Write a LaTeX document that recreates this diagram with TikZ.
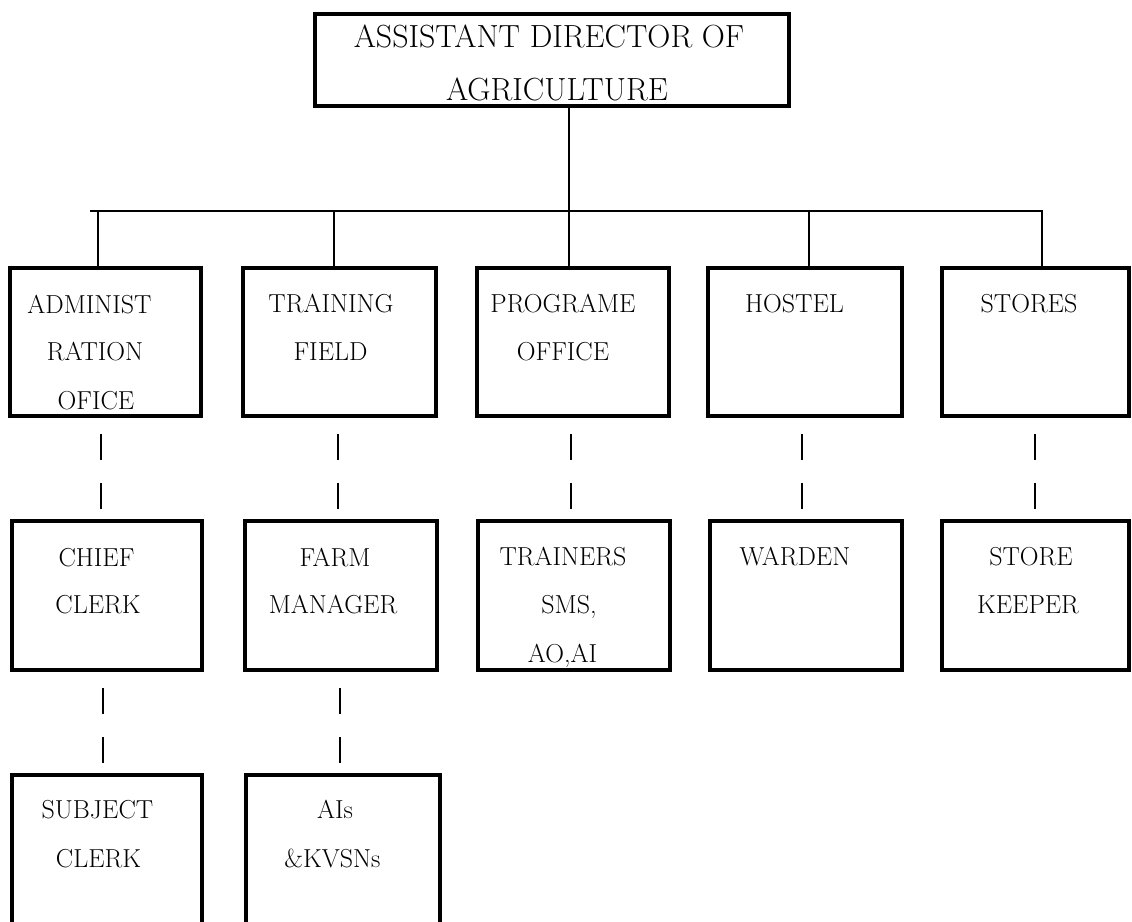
\documentclass[tikz,border=0pt]{standalone}
\usepackage{fontspec}
\begin{document}
\begin{tikzpicture}[x=1pt,y=-1pt,
  box/.style={draw, line width=4pt, inner sep=0pt},
  conn/.style={line width=2pt},
  dashconn/.style={line width=2.5pt, dash pattern=on 26pt off 23pt, dash phase=33pt},
  lbl/.style={font=\fontsize{26}{30}\selectfont, anchor=base, inner sep=0pt},
  toplbl/.style={font=\fontsize{32}{36}\selectfont, anchor=base, inner sep=0pt}]
\useasboundingbox (0,0) rectangle (1132,921);
% top box
\node[box, minimum width=474pt, minimum height=92pt] (top) at (552,60) {};
\node[toplbl] (t1) at (549,47) {ASSISTANT DIRECTOR OF};
\node[toplbl] (t2) at (557,100) {AGRICULTURE};
% row 1
\node[box, minimum width=191pt, minimum height=148pt] (a1) at (105.5,342) {};
\node[box, minimum width=193pt, minimum height=148pt] (a2) at (339.5,342) {};
\node[box, minimum width=192pt, minimum height=148pt] (a3) at (573,342) {};
\node[box, minimum width=194pt, minimum height=148pt] (a4) at (805,342) {};
\node[box, minimum width=187pt, minimum height=148pt] (a5) at (1035.5,342) {};
% row 2
\node[box, minimum width=190pt, minimum height=149pt] (b1) at (107,595.5) {};
\node[box, minimum width=192pt, minimum height=149pt] (b2) at (341,595.5) {};
\node[box, minimum width=192pt, minimum height=149pt] (b3) at (574,595.5) {};
\node[box, minimum width=192pt, minimum height=149pt] (b4) at (806,595.5) {};
\node[box, minimum width=187pt, minimum height=149pt] (b5) at (1035.5,595.5) {};
% row 3
\node[box, minimum width=190pt, minimum height=165pt] (c1) at (107,857.5) {};
\node[box, minimum width=194pt, minimum height=165pt] (c2) at (343,857.5) {};
% labels
\node[lbl] (l1) at (89.5,313) {ADMINIST};
\node[lbl] (l2) at (95,360) {RATION};
\node[lbl] (l3) at (96,409) {OFICE};
\node[lbl] (l4) at (331,312) {TRAINING};
\node[lbl] (l5) at (330.5,360) {FIELD};
\node[lbl] (l6) at (563,312) {PROGRAME};
\node[lbl] (l7) at (563,360) {OFFICE};
\node[lbl] (l8) at (794.5,312) {HOSTEL};
\node[lbl] (l9) at (1029,312) {STORES};
\node[lbl] (m1) at (96.5,566) {CHIEF};
\node[lbl] (m2) at (98,613) {CLERK};
\node[lbl] (m3) at (335,566) {FARM};
\node[lbl] (m4) at (333,613) {MANAGER};
\node[lbl] (m5) at (563,565) {TRAINERS};
\node[lbl] (m6) at (569,613) {SMS,};
\node[lbl] (m7) at (562.5,662) {AO,AI};
\node[lbl] (m8) at (795,565) {WARDEN};
\node[lbl] (m9) at (1031,565) {STORE};
\node[lbl] (m10) at (1028,613) {KEEPER};
\node[lbl] (n1) at (97.5,818) {SUBJECT};
\node[lbl] (n2) at (98.5,867) {CLERK};
\node[lbl] (n3) at (335,818) {AIs};
\node[lbl] (n4) at (332.5,867) {\&KVSNs};
% connectors
\coordinate (barL) at (90,211);
\coordinate (barR) at (1043,211);
\draw[conn] (barL) -- (barR);
\draw[conn] ([xshift=17pt]top.south) -- ([xshift=17pt]top.south |- a3.north);
\draw[conn] ([xshift=-7.5pt]a1.north) -- ([xshift=-7.5pt]a1.north |- barL);
\draw[conn] ([xshift=-5.5pt]a2.north) -- ([xshift=-5.5pt]a2.north |- barL);
\draw[conn] ([xshift=4pt]a4.north) -- ([xshift=4pt]a4.north |- barL);
\draw[conn] ([xshift=6.5pt]a5.north) -- ([xshift=6.5pt]a5.north |- barL);
% dashed connectors row1 -> row2
\draw[dashconn] ([xshift=-4.5pt]a1.south) -- ([xshift=-4.5pt]a1.south |- b1.north);
\draw[dashconn] ([xshift=-1.5pt]a2.south) -- ([xshift=-1.5pt]a2.south |- b2.north);
\draw[dashconn] ([xshift=-2pt]a3.south) -- ([xshift=-2pt]a3.south |- b3.north);
\draw[dashconn] ([xshift=-3pt]a4.south) -- ([xshift=-3pt]a4.south |- b4.north);
\draw[dashconn] ([xshift=-0.5pt]a5.south) -- ([xshift=-0.5pt]a5.south |- b5.north);
% dashed connectors row2 -> row3
\draw[dashconn] ([xshift=-4pt]b1.south) -- ([xshift=-4pt]b1.south |- c1.north);
\draw[dashconn] ([xshift=-1pt]b2.south) -- ([xshift=-1pt]b2.south |- c2.north);
\end{tikzpicture}
\end{document}
